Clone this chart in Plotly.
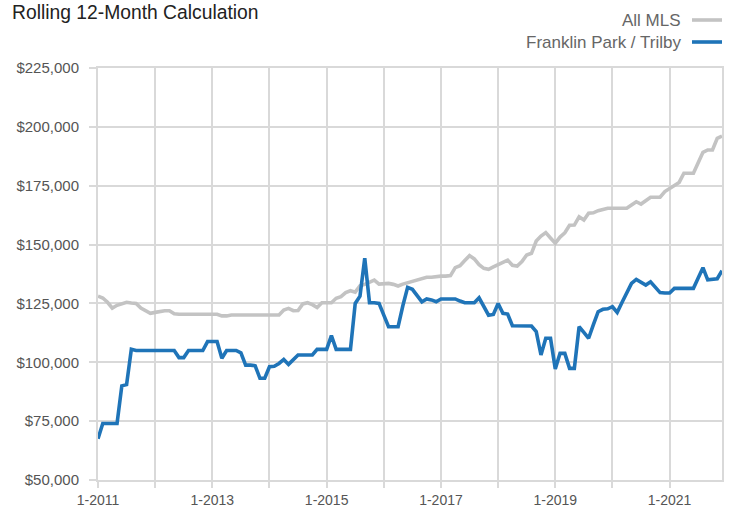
import plotly.graph_objects as go

# ---- data (monthly, Jan 2011 .. Dec 2021) ----
months = [f"{m}-{y}" for y in range(2011, 2022) for m in range(1, 13)]

all_mls = [
    128100, 127300, 125500, 123000, 124200, 125000, 125500, 125200, 125000, 123000, 122000, 120800,
    121200, 121600, 121900, 121900, 120600, 120400, 120400, 120400, 120400, 120400, 120400, 120400,
    120400, 120400, 119700, 119700, 120100, 120100, 120100, 120100, 120100, 120100, 120100, 120100,
    120100, 120100, 120100, 122200, 122900, 121900, 122000, 124800, 125300, 124500, 123300, 125300,
    125300, 125300, 127200, 127900, 129600, 130400, 129800, 132500, 133100, 134000, 134900, 133200,
    133300, 133500, 133100, 132400, 133200, 133800, 134300, 135200, 135600, 136100, 136100, 136400,
    136600, 136600, 136800, 140200, 141000, 143200, 145300, 143900, 141500, 139900, 139500, 140500,
    141600, 142600, 143400, 141200, 140900, 142800, 145600, 146300, 151500, 153600, 155100, 152800,
    150600, 153200, 155000, 158200, 158300, 161800, 160400, 163300, 163500, 164400, 164800, 165400,
    165400, 165400, 165400, 165400, 166800, 168200, 167200, 168600, 170100, 170100, 170100, 172500,
    173900, 175000, 176400, 180300, 180300, 180300, 184800, 189200, 190200, 190200, 195100, 196100,
]

franklin = [
    67500, 74000, 74000, 74000, 74000, 90000, 90500, 105500, 105000, 105000, 105000, 105000,
    105000, 105000, 105000, 105000, 105000, 102000, 102000, 105000, 105000, 105000, 105000, 108800,
    108800, 108800, 101700, 105000, 105000, 105000, 104000, 98800, 98800, 98500, 93200, 93200,
    98100, 98300, 99500, 101200, 99100, 101000, 103100, 103100, 103100, 103100, 105500, 105500,
    105500, 111300, 105500, 105500, 105500, 105500, 125000, 128100, 144200, 125300, 125300, 125000,
    120000, 115100, 115100, 115100, 124000, 131800, 131000, 128500, 125700, 126900, 126500, 125700,
    126900, 126900, 126900, 126900, 126000, 125300, 125300, 125300, 127400, 124000, 120000, 120300,
    125000, 120800, 120500, 115500, 115400, 115400, 115400, 115400, 113000, 103100, 110200, 110200,
    97200, 103800, 103800, 97400, 97400, 115100, 112700, 110200, 116000, 121500, 122500, 122700,
    123600, 121200, 125400, 129500, 133500, 135200, 134000, 132800, 134200, 131900, 129600, 129400,
    129400, 131400, 131400, 131400, 131400, 131400, 135800, 140200, 135000, 135300, 135500, 138900,
]

series_names = ["All MLS", "Franklin Park / Trilby"]
series_colors = ["#c3c3c3", "#1f74b8"]

x_tick_vals = list(range(0, 132, 12))
x_tick_text = [months[i] if (i // 12) % 2 == 0 else "" for i in x_tick_vals]
y_tick_vals = list(range(50000, 225001, 25000))
y_tick_text = [f"${v:,.0f}" for v in y_tick_vals]

FONT = "Liberation Sans, Arial, sans-serif"
GRID = "#d9d9d9"

x_idx = list(range(len(months)))

fig = go.Figure()
for name, vals, col in zip(series_names, [all_mls, franklin], series_colors):
    fig.add_trace(go.Scatter(
        x=x_idx, y=vals, mode="lines", name=name,
        line=dict(color=col, width=3.6), customdata=months,
        hovertemplate="%{customdata}: %{y:$,.0f}<extra>" + name + "</extra>",
        showlegend=False,
    ))

W, H = 732, 514
L, R, T, B = 98, 10, 68, 34
pw, ph = W - L - R, H - T - B

def px_x(px):  # page pixel -> paper coord
    return (px - L) / pw

def px_y(py):
    return (H - B - py) / ph

legend_rows = [20, 42]
for name, col, yy in zip(series_names, series_colors, legend_rows):
    fig.add_annotation(x=px_x(683), y=px_y(yy), xref="paper", yref="paper",
                       text=name, showarrow=False, xanchor="right", yanchor="middle",
                       font=dict(family=FONT, size=17, color="#666666"))
    fig.add_shape(type="line", xref="paper", yref="paper",
                  x0=px_x(692), x1=px_x(722), y0=px_y(yy), y1=px_y(yy),
                  line=dict(color=col, width=3.6))

fig.update_layout(
    width=W, height=H,
    margin=dict(l=L, r=R, t=T, b=B, autoexpand=False),
    paper_bgcolor="white", plot_bgcolor="white",
    title=dict(text="Rolling 12-Month Calculation", x=12 / W, xanchor="left",
               xref="container", y=1 - 12 / H, yanchor="middle", yref="container",
               font=dict(family=FONT, size=19.3, color="#222222")),
    font=dict(family=FONT),
)
fig.update_xaxes(
    range=[0, 131], tickmode="array", tickvals=x_tick_vals, ticktext=x_tick_text,
    showgrid=True, gridcolor=GRID, gridwidth=2,
    showline=True, linecolor=GRID, linewidth=2, mirror=True,
    ticks="outside", ticklen=6, tickcolor=GRID, tickwidth=2, automargin=False,
    tickfont=dict(family=FONT, size=14, color="#555555"), zeroline=False,
)
fig.update_yaxes(
    range=[50000, 225000], tickmode="array", tickvals=y_tick_vals, ticktext=y_tick_text,
    showgrid=True, gridcolor=GRID, gridwidth=2,
    showline=True, linecolor=GRID, linewidth=2, mirror=True,
    ticks="outside", ticklen=7, tickcolor=GRID, tickwidth=2, automargin=False,
    ticklabelstandoff=7,
    tickfont=dict(family=FONT, size=15, color="#555555"), zeroline=False,
)

# remove the default 8px page margin so the figure fills the window exactly
fig.write_html("out.html",
               config={"displayModeBar": False},
               post_script="document.body.style.margin='0';document.body.style.overflow='hidden';")
